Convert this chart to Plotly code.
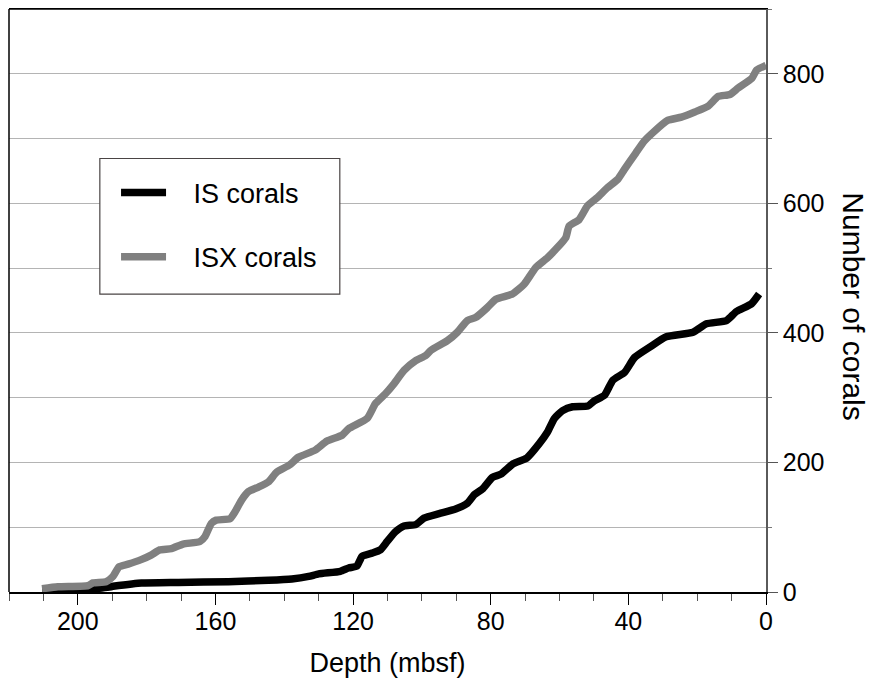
import plotly.graph_objects as go

# Depth (mbsf) and cumulative number of corals
isx_depth = [210.4, 205.8, 197.0, 195.6, 191.8, 189.8, 188.0, 185.4, 181.6, 178.7,
             176.2, 172.8, 169.4, 164.5, 163.0, 161.2, 159.8, 155.8, 154.3, 152.4,
             150.4, 147.5, 144.6, 142.2, 138.5, 135.9, 131.0, 127.6, 123.2, 121.3,
             115.9, 113.5, 110.6, 108.2, 105.2, 101.8, 98.9, 97.4, 92.6, 89.7,
             86.8, 84.3, 81.0, 78.5, 73.7, 70.3, 66.9, 63.5, 61.1, 58.2,
             57.2, 54.3, 51.9, 49.0, 46.1, 43.1, 41.2, 37.8, 35.4, 32.5,
             28.6, 24.6, 20.7, 16.8, 13.9, 10.5, 8.1, 4.1, 2.7, 0.0]
isx_count = [5, 8, 10, 14, 16, 24, 39, 43, 50, 57,
             65, 67, 74, 78, 86, 106, 111, 113, 124, 142,
             155, 162, 170, 185, 196, 208, 219, 233, 242, 252,
             268, 291, 306, 321, 342, 357, 365, 373, 388, 401,
             419, 424, 439, 452, 460, 475, 501, 516, 529, 547,
             565, 575, 596, 609, 624, 637, 652, 678, 696, 711,
             728, 733, 741, 750, 765, 768, 778, 793, 806, 813]

is_depth = [210.3, 197.0, 190.0, 181.5, 170.8, 156.2, 144.6, 137.8, 132.9, 130.0,
            123.7, 121.3, 118.9, 117.4, 114.5, 112.1, 110.1, 107.7, 105.2, 101.8,
            99.4, 95.0, 90.2, 86.8, 84.8, 82.4, 79.5, 77.0, 73.5, 69.5,
            65.9, 63.5, 61.5, 59.1, 56.2, 51.8, 49.9, 46.9, 44.5, 41.1,
            38.2, 33.8, 29.0, 21.2, 17.3, 11.5, 8.6, 4.2, 2.0]
is_count = [1, 3.5, 8.6, 13.8, 14.8, 16, 18, 20, 24, 28,
            32, 37, 40, 55, 60, 65, 78, 93, 102, 104,
            114, 121, 128, 137, 150, 159, 177, 182, 198, 207,
            229, 247, 268, 280, 286, 287, 295, 304, 327, 339,
            362, 378, 394, 401, 414, 419, 433, 445, 460]

series_names = ["IS corals", "ISX corals"]
x_ticks = [0, 40, 80, 120, 160, 200]
y_ticks = [0, 200, 400, 600, 800]

FONT = "Liberation Sans, Arial, sans-serif"
PAD = "\u00a0\u00a0\u00a0"

fig = go.Figure()
fig.add_trace(go.Scatter(x=is_depth, y=is_count, mode="lines", name=PAD + series_names[0],
                         legendgroup="a",
                         line=dict(color="#000000", width=7.5, shape="spline", smoothing=0.5)))
fig.add_trace(go.Scatter(x=isx_depth, y=isx_count, mode="lines", name=PAD + series_names[1],
                         legendgroup="b",
                         line=dict(color="#808080", width=7.5, shape="spline", smoothing=0.5)))

# page body has an 8px margin, so the figure is 8px smaller and offset
fig.update_layout(
    width=878, height=680,
    margin=dict(l=1, r=120, t=1, b=96),
    paper_bgcolor="white", plot_bgcolor="white",
    font=dict(family=FONT, size=25, color="black"),
    showlegend=True,
    legend=dict(x=0.1414, y=0.7264, xanchor="left", yanchor="top",
                bgcolor="rgba(0,0,0,0)", borderwidth=0,
                font=dict(size=27), tracegroupgap=26,
                traceorder="grouped", itemwidth=45),
    xaxis=dict(range=[220, 0], tickvals=x_ticks, ticks="outside", ticklen=11,
               tickcolor="black", showline=True, linecolor="black", linewidth=1.5,
               mirror=True, showgrid=False, zeroline=False, automargin=False,
               ticklabelstandoff=-5,
               minor=dict(dtick=10, ticks="outside", ticklen=7, tickcolor="#555"),
               title=dict(text="Depth (mbsf)", font=dict(size=27), standoff=19)),
    yaxis=dict(range=[0, 900], side="right", tickvals=y_ticks, ticks="outside",
               ticklen=10, tickcolor="#555", showline=True, linecolor="#5a5a5a",
               linewidth=1.5, showgrid=True, gridcolor="#b4b4b4", gridwidth=1,
               zeroline=False, automargin=False,
               minor=dict(dtick=100, ticks="outside", ticklen=4, tickcolor="#777",
                          showgrid=True, gridcolor="#b4b4b4", gridwidth=1)),
    annotations=[dict(text="Number of corals", textangle=90, xref="paper", yref="paper",
                      x=1.0, xshift=88, y=0.49, showarrow=False,
                      font=dict(size=30), xanchor="center", yanchor="middle")],
    shapes=[dict(type="line", xref="paper", yref="paper", x0=0, x1=0, y0=0, y1=1,
                 line=dict(color="black", width=1.5)),
            dict(type="line", xref="paper", yref="paper", x0=0, x1=1, y0=1, y1=1,
                 line=dict(color="black", width=1.5)),
            dict(type="rect", xref="paper", yref="paper", x0=0.120, x1=0.437,
                 y0=0.511, y1=0.7436, fillcolor="white",
                 line=dict(color="#4a4444", width=1.2), layer="above")],
)

fig.write_html("out.html")
